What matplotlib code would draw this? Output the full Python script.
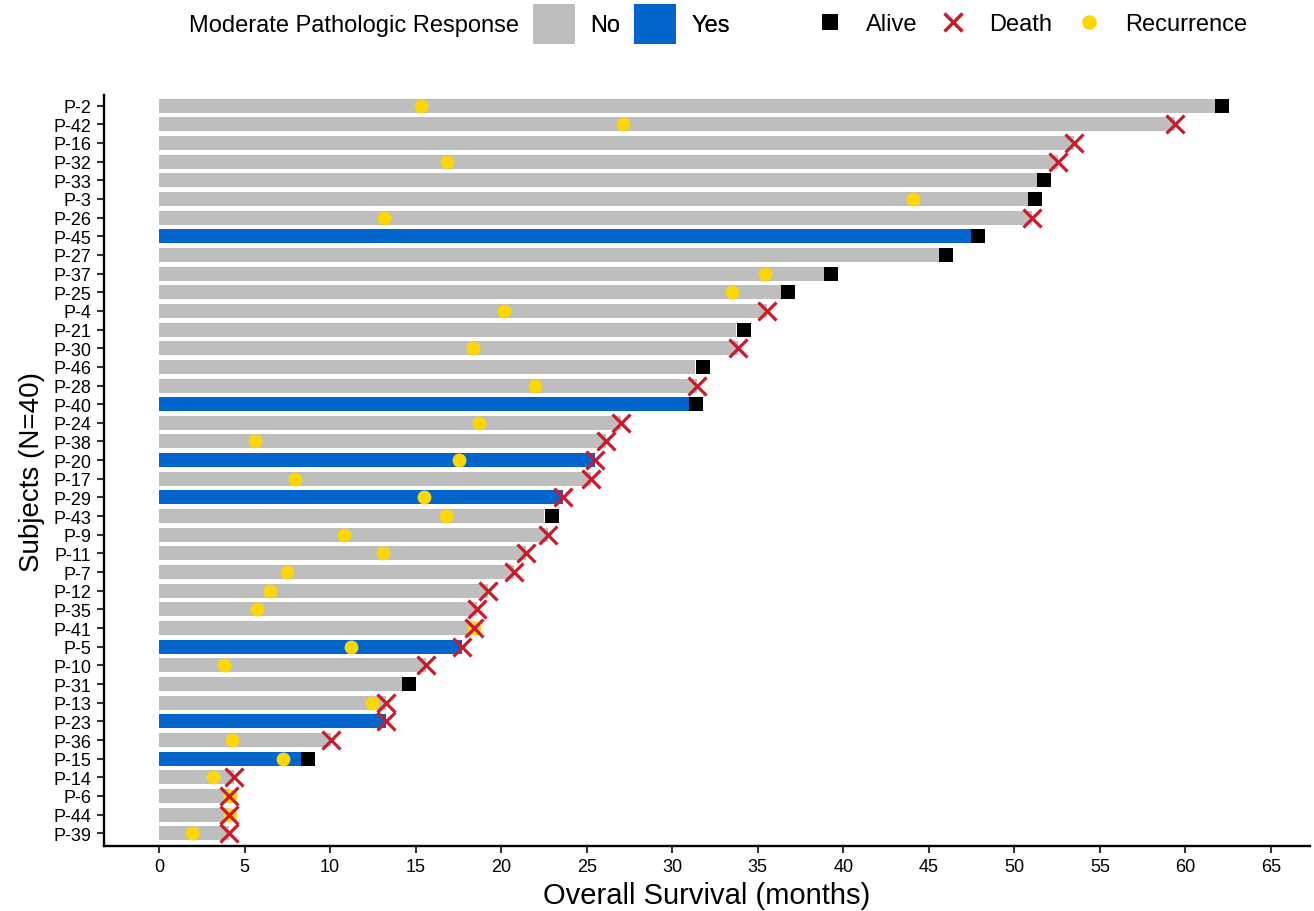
import matplotlib.pyplot as plt
import numpy as np
from matplotlib.lines import Line2D
from matplotlib.patches import Patch

plt.rcParams["font.family"] = ["Liberation Sans", "DejaVu Sans"]

# subjects, top to bottom
subjects = ["P-2", "P-42", "P-16", "P-32", "P-33", "P-3", "P-26", "P-45", "P-27", "P-37",
            "P-25", "P-4", "P-21", "P-30", "P-46", "P-28", "P-40", "P-24", "P-38", "P-20",
            "P-17", "P-29", "P-43", "P-9", "P-11", "P-7", "P-12", "P-35", "P-41", "P-5",
            "P-10", "P-31", "P-13", "P-23", "P-36", "P-15", "P-14", "P-6", "P-44", "P-39"]

survival = [61.73, 59.4, 53.5, 52.55, 51.32, 50.8, 51.03, 47.46, 45.58, 38.87,
            36.35, 35.54, 33.74, 33.85, 31.35, 31.43, 30.98, 27.0, 26.14, 25.47,
            25.25, 23.59, 22.52, 22.71, 21.44, 20.74, 19.26, 18.6, 18.44, 17.7,
            15.6, 14.18, 13.25, 13.25, 10.07, 8.29, 4.36, 4.11, 4.11, 4.07]

status = ["Alive", "Death", "Death", "Death", "Alive", "Alive", "Death", "Alive", "Alive", "Alive",
          "Alive", "Death", "Alive", "Death", "Alive", "Death", "Alive", "Death", "Death", "Death",
          "Death", "Death", "Alive", "Death", "Death", "Death", "Death", "Death", "Death", "Death",
          "Death", "Alive", "Death", "Death", "Death", "Alive", "Death", "Death", "Death", "Death"]

response = ["No", "No", "No", "No", "No", "No", "No", "Yes", "No", "No",
            "No", "No", "No", "No", "No", "No", "Yes", "No", "No", "Yes",
            "No", "Yes", "No", "No", "No", "No", "No", "No", "No", "Yes",
            "No", "No", "No", "Yes", "No", "Yes", "No", "No", "No", "No"]

nan = np.nan
recurrence = [15.33, 27.14, nan, 16.82, nan, 44.1, 13.18, nan, nan, 35.41,
              33.5, 20.16, nan, 18.38, nan, 21.96, nan, 18.68, 5.6, 17.55,
              7.97, 15.48, 16.75, 10.82, 13.12, 7.51, 6.48, 5.72, 18.44, 11.25,
              3.81, nan, 12.45, nan, 4.24, 7.22, 3.15, 4.16, 4.16, 1.93]

GREY = "#BEBEBE"
BLUE = "#0066CC"
GOLD = "#FFD700"
RED = "#CC1A2B"
ALIVE_OFFSET = 0.43

y = np.arange(len(subjects))
surv = np.array(survival)
rec = np.array(recurrence)
alive = np.array([s == "Alive" for s in status])
bar_colors = [BLUE if r == "Yes" else GREY for r in response]

fig = plt.figure(figsize=(13.14, 9.12), dpi=100)
ax = fig.add_axes([104 / 1314, 1 - 847 / 912, 1206 / 1314, 751 / 912])

ax.barh(y, surv, height=0.75, color=bar_colors, zorder=1)
ax.plot(rec, y, "o", color=GOLD, ms=10, mew=0, zorder=3, linestyle="none")
ax.plot(surv[alive] + ALIVE_OFFSET, y[alive], "s", color="black", ms=10.6, mew=0,
        zorder=4, linestyle="none")
ax.plot(surv[~alive], y[~alive], "x", color=RED, ms=12.5, mew=2.3, zorder=5,
        linestyle="none")

ax.set_xlim(-3.215, 67.28)
ax.set_ylim(39.68, -0.57)
ax.set_xticks(np.arange(0, 66, 5))
ax.set_yticks(y)
ax.set_yticklabels(subjects)

for side in ["top", "right"]:
    ax.spines[side].set_visible(False)
for side in ["left", "bottom"]:
    ax.spines[side].set_linewidth(1.7)
ax.tick_params(axis="both", labelsize=13, length=5, width=1.5, color="#333333", pad=4)

ax.set_xlabel("Overall Survival (months)", fontsize=21, labelpad=4)
ax.set_ylabel("Subjects (N=40)", fontsize=20, labelpad=6)

# legends on top
LEG_Y = 1 - 25 / 912
fig.text(519 / 1314, 1 - 26 / 912, "Moderate Pathologic Response", fontsize=17,
         ha="right", va="center")

resp_handles = [Patch(facecolor=GREY, edgecolor="none"), Patch(facecolor=BLUE, edgecolor="none")]
leg1 = fig.legend(resp_handles, ["No", "Yes"], ncol=2, frameon=False, fontsize=17,
                  loc="center left", bbox_to_anchor=(533 / 1314, LEG_Y),
                  borderpad=0, borderaxespad=0, handlelength=1.78, handleheight=2.25,
                  handletextpad=0.64, columnspacing=0.6)

mark_handles = [
    Line2D([], [], marker="s", color="black", ms=11, mew=0, linestyle="none"),
    Line2D([], [], marker="x", color=RED, ms=13, mew=2.5, linestyle="none"),
    Line2D([], [], marker="o", color=GOLD, ms=10.5, mew=0, linestyle="none"),
]
leg2 = fig.legend(mark_handles, ["Alive", "Death", "Recurrence"], ncol=3, frameon=False,
                  fontsize=17, loc="center left", bbox_to_anchor=(812 / 1314, LEG_Y),
                  borderpad=0, borderaxespad=0, handlelength=1.5,
                  handletextpad=0.78, columnspacing=0.78)
fig.add_artist(leg1)

fig.savefig("out.png", dpi=100)
